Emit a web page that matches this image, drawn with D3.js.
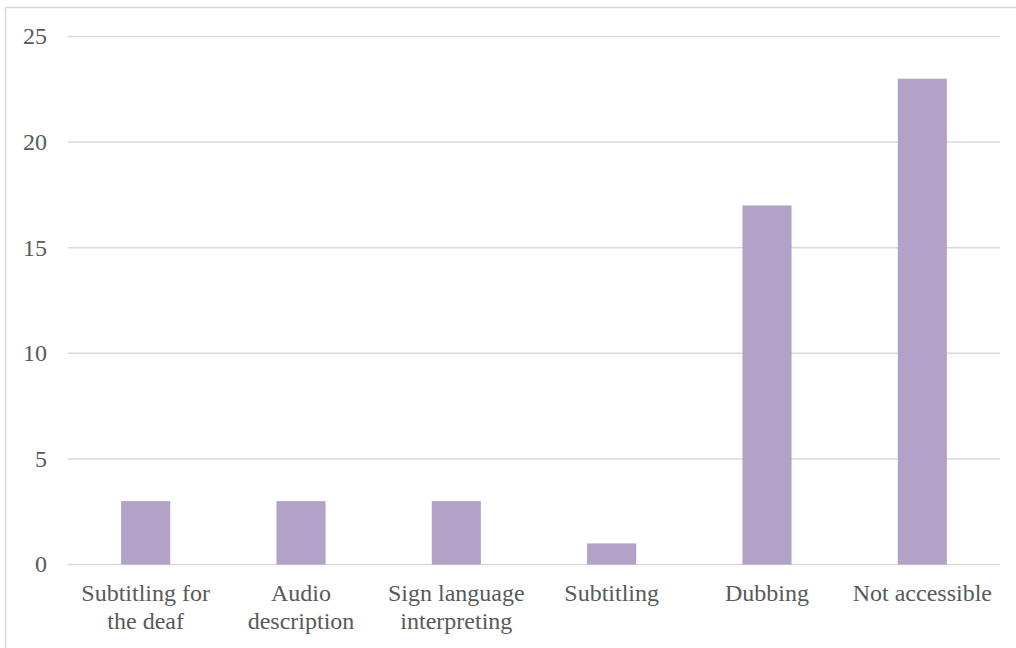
<!DOCTYPE html>
<html><head><meta charset="utf-8">
<script src="https://cdn.jsdelivr.net/npm/d3@7"></script>
<style>body{margin:0;background:#fff}svg{display:block}</style>
</head><body><svg id="c" width="1016" height="648"></svg>
<script>
const categories = [["Subtitling for","the deaf"],["Audio","description"],["Sign language","interpreting"],["Subtitling"],["Dubbing"],["Not accessible"]];
const values = [3,3,3,1,17,23];
const yTicks = [0,5,10,15,20,25];

const svg = d3.select("#c");
svg.append("rect").attr("x",5.5).attr("y",7.5).attr("width",1030).attr("height",660)
  .attr("fill","#fff").attr("stroke","#d9d9d9").attr("stroke-width",1.5);

const x = d3.scaleBand().domain(categories.map((d,i)=>i)).range([68,1000]).paddingInner(0.684).paddingOuter(0.342);
const y = d3.scaleLinear().domain([0,25]).range([564.5,36.5]);
const font = "'Liberation Serif','Times New Roman',serif";

svg.append("g").selectAll("line").data(yTicks).join("line")
  .attr("x1",68).attr("x2",1000).attr("y1",d=>y(d)).attr("y2",d=>y(d))
  .attr("stroke","#d9d9d9").attr("stroke-width",1.5);

svg.append("g").selectAll("text").data(yTicks).join("text")
  .attr("x",47).attr("y",d=>y(d)).attr("dy","0.33em").attr("text-anchor","end")
  .attr("font-family",font).attr("font-size",24).attr("fill","#595959").text(d=>d);

svg.append("g").selectAll("rect").data(values).join("rect")
  .attr("x",(d,i)=>x(i)).attr("width",x.bandwidth())
  .attr("y",d=>y(d)).attr("height",d=>y(0)-y(d)).attr("fill","#b3a2c7");

const lab = svg.append("g").selectAll("text").data(categories).join("text")
  .attr("x",(d,i)=>x(i)+x.bandwidth()/2).attr("y",601).attr("text-anchor","middle")
  .attr("font-family",font).attr("font-size",24).attr("fill","#595959");
lab.selectAll("tspan").data(d=>d).join("tspan")
  .attr("x",function(){return this.parentNode.getAttribute("x");})
  .attr("dy",(d,i)=>i===0?0:28).text(d=>d);
</script></body></html>
